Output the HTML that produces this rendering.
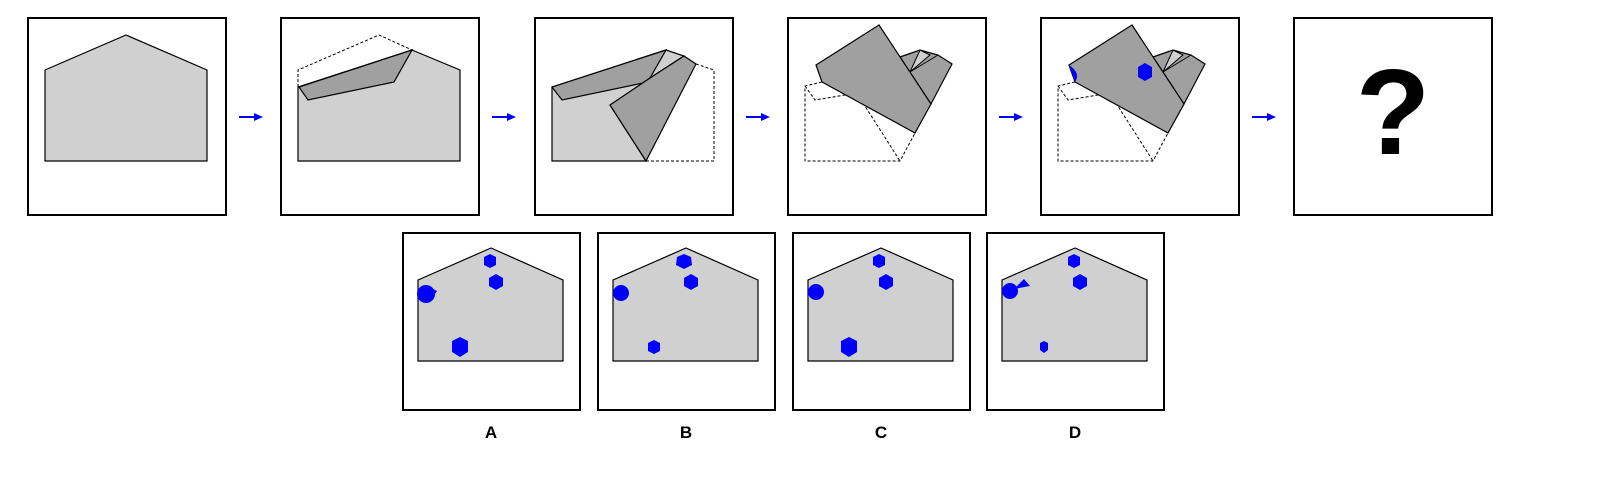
<!DOCTYPE html>
<html><head><meta charset="utf-8"><style>
html,body{margin:0;padding:0;background:#fff;}
svg{display:block;font-family:"Liberation Sans",Arial,sans-serif;}
</style></head><body>
<svg width="1610" height="490" viewBox="0 0 1610 490">
<!-- Panel 1 -->
<g transform="translate(28,18)">
<rect x="0" y="0" width="198" height="197" fill="#fff" stroke="#000" stroke-width="2"/>
<polygon points="17,52 98,17 179,52 179,143 17,143" fill="#d0d0d0" stroke="#000" stroke-width="1.2"/>
</g>
<!-- Panel 2 -->
<g transform="translate(281,18)">
<rect x="0" y="0" width="198" height="197" fill="#fff" stroke="#000" stroke-width="2"/>
<polyline points="17,69 17,52 98,17 131,32" fill="none" stroke="#000" stroke-dasharray="3,2"/>
<polygon points="131,32 179,52 179,143 17,143 17,69" fill="#d0d0d0" stroke="#000" stroke-width="1.2"/>
<polygon points="131,32 18,69 27,82 113,64" fill="#a0a0a0" stroke="#000" stroke-width="1.2"/>
</g>
<!-- Panel 3 -->
<g transform="translate(535,18)">
<rect x="0" y="0" width="198" height="197" fill="#fff" stroke="#000" stroke-width="2"/>
<polyline points="161,46 179,52 179,143 111,143" fill="none" stroke="#000" stroke-dasharray="3,2"/>
<polygon points="131,32 149,38 115,60 108,65 75,87 111,143 17,143 17,69" fill="#d0d0d0" stroke="#000" stroke-width="1.2"/>
<polygon points="131,32 17,69 27,82 108,65 115,60" fill="#a0a0a0" stroke="#000" stroke-width="1.2"/>
<polygon points="149,38 161,46 111,143 75,87 115,60" fill="#a0a0a0" stroke="#000" stroke-width="1.2"/>
</g>
<!-- Panel 4 -->
<g transform="translate(788,18)">
<rect x="0" y="0" width="198" height="197" fill="#fff" stroke="#000" stroke-width="2"/>
<g fill="none" stroke="#000" stroke-dasharray="3,2">
<polyline points="34,64 17,68 17,143 112,143 127,115"/>
<polyline points="17,68 27,82 57,77"/>
<line x1="75" y1="85" x2="112" y2="143"/>
</g>
<polygon points="112,39 132,32 150,37 164,46 143,86" fill="#a0a0a0" stroke="#000" stroke-width="1.2"/>
<polygon points="132,32 142,37 122,54" fill="#d0d0d0" stroke="#000" stroke-width="1"/>
<line x1="150" y1="37" x2="122" y2="54" stroke="#000"/>
<polygon points="91,7 28,47 34,64 127,115 143,86" fill="#a0a0a0" stroke="#000" stroke-width="1.2"/>
</g>
<!-- Panel 5 -->
<g transform="translate(1041,18)">
<rect x="0" y="0" width="198" height="197" fill="#fff" stroke="#000" stroke-width="2"/>
<g fill="none" stroke="#000" stroke-dasharray="3,2">
<polyline points="34,64 17,68 17,143 112,143 127,115"/>
<polyline points="17,68 27,82 57,77"/>
<line x1="75" y1="85" x2="112" y2="143"/>
</g>
<polygon points="112,39 132,32 150,37 164,46 143,86" fill="#a0a0a0" stroke="#000" stroke-width="1.2"/>
<polygon points="132,32 142,37 122,54" fill="#d0d0d0" stroke="#000" stroke-width="1"/>
<line x1="150" y1="37" x2="122" y2="54" stroke="#000"/>
<polygon points="91,7 28,47 34,64 127,115 143,86" fill="#a0a0a0" stroke="#000" stroke-width="1.2"/>
<path d="M28,47 Q40,55 34,64 Z" fill="#0000ff"/>
<polygon points="104,45 111,49 111,59 104,63 97,59 97,49" fill="#0000ff"/>
</g>
<!-- Panel 6 -->
<g transform="translate(1294,18)">
<rect x="0" y="0" width="198" height="197" fill="#fff" stroke="#000" stroke-width="2"/>
<text x="99" y="136" text-anchor="middle" font-size="122" font-weight="bold">?</text>
</g>
<!-- Arrows -->
<g fill="#0000ff" stroke="#0000ff">
<g transform="translate(239,117)"><line x1="0" y1="0" x2="18" y2="0" stroke-width="2"/><polygon points="15,-4 24,0 15,4" stroke="none"/></g>
<g transform="translate(492,117)"><line x1="0" y1="0" x2="18" y2="0" stroke-width="2"/><polygon points="15,-4 24,0 15,4" stroke="none"/></g>
<g transform="translate(746,117)"><line x1="0" y1="0" x2="18" y2="0" stroke-width="2"/><polygon points="15,-4 24,0 15,4" stroke="none"/></g>
<g transform="translate(999,117)"><line x1="0" y1="0" x2="18" y2="0" stroke-width="2"/><polygon points="15,-4 24,0 15,4" stroke="none"/></g>
<g transform="translate(1252,117)"><line x1="0" y1="0" x2="18" y2="0" stroke-width="2"/><polygon points="15,-4 24,0 15,4" stroke="none"/></g>
</g>
<!-- Options -->
<g transform="translate(403,233)">
<rect x="0" y="0" width="177" height="177" fill="#fff" stroke="#000" stroke-width="2"/>
<polygon points="15,47 88,15 160,47 160,128 15,128" fill="#d0d0d0" stroke="#000" stroke-width="1.2"/>
<g fill="#0000ff">
<polygon points="87,21 93,24 93,32 87,35 81,32 81,24"/>
<polygon points="93,41 100,45 100,53 93,57 86,53 86,45"/>
<circle cx="23" cy="61" r="9"/><polygon points="26,54 34,58 30,64"/>
<polygon points="57,104 65,108 65,119 57,124 49,119 49,108"/>
</g>
</g>
<g transform="translate(598,233)">
<rect x="0" y="0" width="177" height="177" fill="#fff" stroke="#000" stroke-width="2"/>
<polygon points="15,47 88,15 160,47 160,128 15,128" fill="#d0d0d0" stroke="#000" stroke-width="1.2"/>
<g fill="#0000ff">
<polygon points="86,21 93,24 94,32 86,36 78,32 79,24"/>
<polygon points="93,41 100,45 100,53 93,57 86,53 86,45"/>
<ellipse cx="23" cy="60" rx="8" ry="8"/>
<polygon points="56,107 62,110 62,118 56,121 50,118 50,110"/>
</g>
</g>
<g transform="translate(793,233)">
<rect x="0" y="0" width="177" height="177" fill="#fff" stroke="#000" stroke-width="2"/>
<polygon points="15,47 88,15 160,47 160,128 15,128" fill="#d0d0d0" stroke="#000" stroke-width="1.2"/>
<g fill="#0000ff">
<polygon points="86,21 92,24 92,32 86,35 80,32 80,24"/>
<polygon points="93,41 100,45 100,53 93,57 86,53 86,45"/>
<ellipse cx="23" cy="59" rx="8" ry="8"/>
<polygon points="56,104 64,108 64,119 56,124 48,119 48,108"/>
</g>
</g>
<g transform="translate(987,233)">
<rect x="0" y="0" width="177" height="177" fill="#fff" stroke="#000" stroke-width="2"/>
<polygon points="15,47 88,15 160,47 160,128 15,128" fill="#d0d0d0" stroke="#000" stroke-width="1.2"/>
<g fill="#0000ff">
<polygon points="87,21 93,24 93,32 87,35 81,32 81,24"/>
<polygon points="93,41 100,45 100,53 93,57 86,53 86,45"/>
<ellipse cx="23" cy="58" rx="8" ry="8"/><polygon points="27,56 37,46 43,53"/>
<polygon points="57,108 61,110 61,117 57,120 53,117 53,110"/>
</g>
</g>
<g font-size="17" font-weight="bold" text-anchor="middle">
<text x="491" y="438">A</text>
<text x="686" y="438">B</text>
<text x="881" y="438">C</text>
<text x="1075" y="438">D</text>
</g>
</svg>
</body></html>
